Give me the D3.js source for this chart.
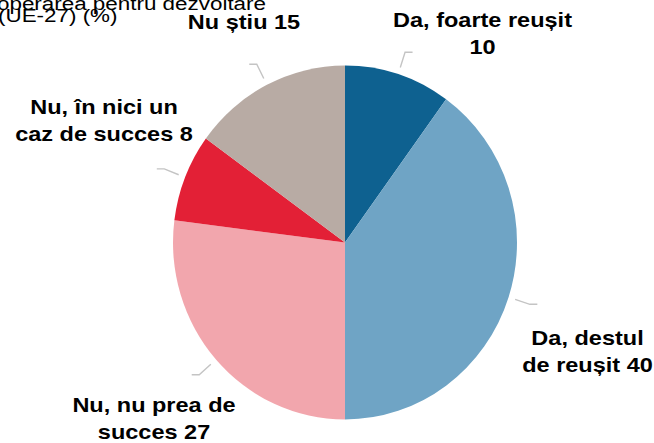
<!DOCTYPE html>
<html>
<head>
<meta charset="utf-8">
<script src="https://cdn.jsdelivr.net/npm/d3@7/dist/d3.min.js"></script>
<style>
html, body { margin: 0; padding: 0; background: #fff; }
svg { display: block; }
text { font-family: "Liberation Sans", Arial, Helvetica, sans-serif; fill: #000; }
</style>
</head>
<body>
<svg id="chart" width="654" height="443"></svg>
<script>
// ---- data ----
const titleLines = ["Cooperarea pentru dezvoltare", "(UE-27) (%)"];
const categories = ["Da, foarte reușit", "Da, destul de reușit", "Nu, nu prea de succes", "Nu, în nici un caz de succes", "Nu știu"];
const values = [10, 40, 27, 8, 15];
const colors = ["#0e6190", "#6fa4c5", "#f2a6ad", "#e32036", "#b8aba4"];
const labelLines = [
  ["Da, foarte reușit", "10"],
  ["Da, destul", "de reușit 40"],
  ["Nu, nu prea de", "succes 27"],
  ["Nu, în nici un", "caz de succes 8"],
  ["Nu știu 15"]
];

// ---- layout ----
const svg = d3.select("#chart");
const cx = 345, cy = 242.5, rx = 172, ry = 177;

const pie = d3.pie().sort(null).value(d => d.value);
const arcs = pie(categories.map((c, i) => ({ cat: c, value: values[i], color: colors[i] })));
const arc = d3.arc().innerRadius(0).outerRadius(rx);

const g = svg.append("g").attr("transform", `translate(${cx},${cy}) scale(1,${ry / rx})`);
g.selectAll("path").data(arcs).join("path")
  .attr("d", arc)
  .attr("fill", d => d.data.color);

// leader lines
function pt(angle, f) {
  return [cx + rx * f * Math.sin(angle), cy - ry * f * Math.cos(angle)];
}
arcs.forEach(d => {
  const a = (d.startAngle + d.endAngle) / 2;
  const p1 = pt(a, 1.04), p2 = pt(a, 1.13);
  const dir = Math.sin(a) >= 0 ? 1 : -1;
  const p3 = [p2[0] + dir * 7.5, p2[1]];
  svg.append("path")
    .attr("d", d3.line()([p1, p2, p3]))
    .attr("fill", "none")
    .attr("stroke", "#c4c4c4")
    .attr("stroke-width", 1.4);
});

// labels
const labelPos = {
  "Da, foarte reușit": [482.5, 27],
  "Da, destul de reușit": [587.5, 345],
  "Nu, nu prea de succes": [154, 412],
  "Nu, în nici un caz de succes": [104, 114],
  "Nu știu": [244, 28.5]
};
const lineH = 26.5;
arcs.forEach((d, i) => {
  const [x, y] = labelPos[d.data.cat];
  labelLines[i].forEach((t, j) => {
    svg.append("text")
      .attr("transform", `translate(${x},${y + j * lineH}) scale(1.12,1)`)
      .attr("text-anchor", "middle")
      .attr("font-weight", "bold")
      .attr("font-size", "21px")
      .text(t);
  });
});

// title (clipped at top-left as in the reference)
svg.append("text")
  .attr("transform", `translate(266,10) scale(1.18,1)`)
  .attr("text-anchor", "end")
  .attr("font-size", "19px")
  .text(titleLines[0]);
svg.append("text")
  .attr("transform", `translate(-2,22) scale(1.18,1)`)
  .attr("text-anchor", "start")
  .attr("font-size", "19px")
  .text(titleLines[1]);
</script>
</body>
</html>
